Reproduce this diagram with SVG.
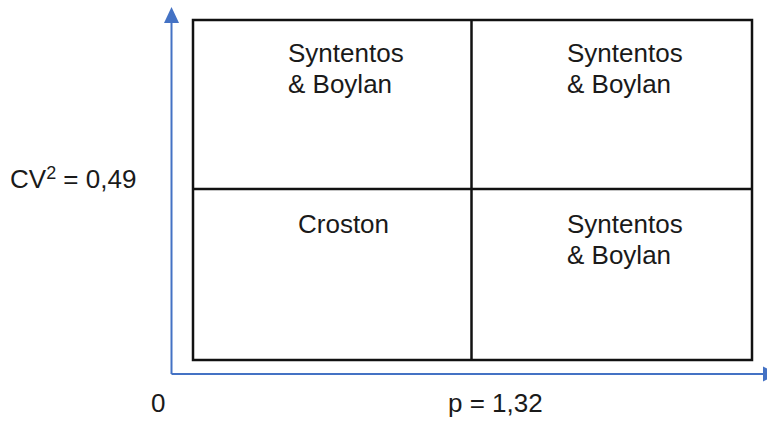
<svg xmlns="http://www.w3.org/2000/svg" width="767" height="422" viewBox="0 0 767 422">
  <style>
    .lbl { font-family: "Liberation Sans", Arial, sans-serif; font-size: 26px; fill: #1a1a1a; }
    .cell { fill: none; stroke: #111; stroke-width: 2.5; }
    .axis { stroke: #4472C4; stroke-width: 2; fill: none; }
    .head { fill: #4472C4; }
  </style>
  <rect width="767" height="422" fill="#ffffff"/>

  <!-- axes -->
  <g id="connectors">
    <line class="axis" x1="171.5" y1="374" x2="171.5" y2="20"/>
    <polygon class="head" points="171.5,7 164,23 179,23"/>
    <line class="axis" x1="171.5" y1="374" x2="765" y2="374"/>
    <polygon class="head" points="778,374 763,366.5 763,381.5"/>
  </g>

  <!-- quadrant grid -->
  <g id="grid">
    <rect class="cell" x="193" y="20" width="559" height="340"/>
    <line class="cell" x1="471.5" y1="20" x2="471.5" y2="360"/>
    <line class="cell" x1="193" y1="189" x2="752" y2="189"/>
  </g>

  <g id="q-top-left">
    <text class="lbl" x="288" y="62">Syntentos</text>
    <text class="lbl" x="288" y="93">&amp; Boylan</text>
  </g>
  <g id="q-top-right">
    <text class="lbl" x="567" y="62">Syntentos</text>
    <text class="lbl" x="567" y="93">&amp; Boylan</text>
  </g>
  <g id="q-bottom-left">
    <text class="lbl" x="298" y="233">Croston</text>
  </g>
  <g id="q-bottom-right">
    <text class="lbl" x="567" y="233">Syntentos</text>
    <text class="lbl" x="567" y="264">&amp; Boylan</text>
  </g>

  <!-- axis labels -->
  <g id="labels">
    <text class="lbl" x="10" y="188">CV<tspan font-size="18" dy="-9">2</tspan><tspan dy="9"> = 0,49</tspan></text>
    <text class="lbl" x="151" y="412">0</text>
    <text class="lbl" x="448" y="412">p = 1,32</text>
  </g>
</svg>
